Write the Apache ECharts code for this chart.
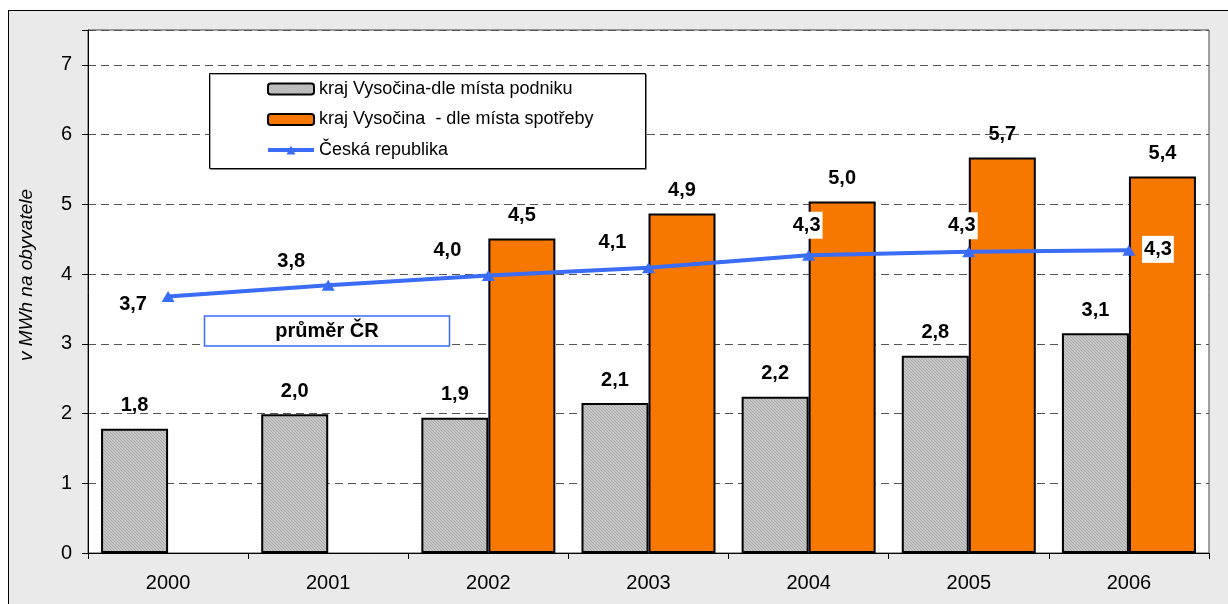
<!DOCTYPE html>
<html>
<head>
    <meta charset="utf-8" />
    <title>Spotřeba elektřiny na obyvatele</title>
    <script src="https://cdn.jsdelivr.net/npm/echarts@6.0.0/dist/echarts.min.js"></script>
    <style>
        body { margin: 0; background: #fff; }
        #frame { position: absolute; left: 8px; top: 10px; width: 1240px; height: 620px; border: 1px solid #000; background: #eaeaea; }
        #chart { position: absolute; left: 0; top: 0; width: 1228px; height: 604px; }
    </style>
</head>
<body>
    <div id="frame"></div>
    <div id="chart"></div>
    <script type="text/javascript">
        // data
        var years = ['2000', '2001', '2002', '2003', '2004', '2005', '2006'];
        var podnik = [1.78, 1.99, 1.94, 2.15, 2.24, 2.83, 3.15];
        var podnikLabels = ['1,8', '2,0', '1,9', '2,1', '2,2', '2,8', '3,1'];
        var spotreba = [null, null, 4.51, 4.87, 5.04, 5.67, 5.40];
        var spotrebaLabels = ['', '', '4,5', '4,9', '5,0', '5,7', '5,4'];
        var republika = [3.68, 3.84, 3.98, 4.09, 4.27, 4.32, 4.34];
        var republikaLabels = ['3,7', '3,8', '4,0', '4,1', '4,3', '4,3', '4,3'];

        // where the line labels sit relative to their point (style only)
        var lineLabelOffset = [[-35, 8], [-37, -24], [-41, -25], [-36, -25], [-2, -30], [-7, -26], [29, -1]];

        var fontName = '"Liberation Sans", Arial, sans-serif';
        var blue = '#3a6cf5';

        // fine grey hatch like the excel fill
        var pat = document.createElement('canvas');
        pat.width = 3;
        pat.height = 3;
        var pctx = pat.getContext('2d');
        pctx.fillStyle = '#c6c6c6';
        pctx.fillRect(0, 0, 3, 3);
        pctx.fillStyle = '#aaaaaa';
        for (var i = 0; i < 3; i++) {
            pctx.fillRect(i, (i + 1) % 3, 1, 1);
        }

        var lineData = republika.map(function (v, i) {
            var bg = i >= 4;
            return {
                value: v,
                label: {
                    offset: lineLabelOffset[i],
                    backgroundColor: bg ? '#fff' : 'transparent',
                    padding: bg ? [4, 2, 3, 2] : 0
                }
            };
        });

        var chart = echarts.init(document.getElementById('chart'));
        chart.setOption({
            backgroundColor: 'transparent',
            animation: false,
            textStyle: { fontFamily: fontName },
            grid: {
                left: 88,
                right: 19,
                top: 30,
                bottom: 51,
                show: true,
                backgroundColor: '#fff',
                borderColor: '#444',
                borderWidth: 1
            },
            legend: {
                orient: 'vertical',
                left: 266,
                top: 79,
                padding: 0,
                itemGap: 10.5,
                itemWidth: 46,
                itemHeight: 11,
                z: 20,
                textStyle: { fontSize: 18, lineHeight: 20, color: '#000', fontFamily: fontName },
                data: [
                    'kraj Vysočina-dle místa podniku',
                    'kraj Vysočina  - dle místa spotřeby',
                    { name: 'Česká republika', lineStyle: { width: 4, color: blue } }
                ]
            },
            xAxis: {
                type: 'category',
                data: years,
                boundaryGap: true,
                axisLine: { lineStyle: { color: '#000', width: 1 } },
                axisTick: { show: true, length: 6, inside: false, lineStyle: { color: '#000' } },
                axisLabel: { fontSize: 20, color: '#000', margin: 20 }
            },
            yAxis: {
                type: 'value',
                min: 0,
                max: 7.5,
                interval: 1,
                axisLine: { show: true, lineStyle: { color: '#000', width: 1 } },
                axisTick: { show: true, length: 6, lineStyle: { color: '#000' } },
                axisLabel: {
                    fontSize: 20,
                    color: '#000',
                    margin: 16,
                    formatter: function (v) { return v % 1 === 0 ? String(v) : ''; }
                },
                splitLine: { show: true, lineStyle: { color: '#555', type: [8, 5], width: 1 } }
            },
            graphic: [
                {
                    type: 'text',
                    x: 27,
                    y: 275,
                    rotation: Math.PI / 2,
                    style: {
                        text: 'v MWh na obyvatele',
                        font: 'italic 19px ' + fontName,
                        fill: '#000',
                        align: 'center',
                        verticalAlign: 'middle'
                    }
                },
                {
                    type: 'rect',
                    z: 10,
                    shape: { x: 209.5, y: 73.5, width: 436, height: 95 },
                    style: { fill: '#fff', stroke: '#000', lineWidth: 1, shadowColor: 'rgba(0,0,0,0.35)', shadowOffsetX: 1, shadowOffsetY: 1 }
                },
                {
                    type: 'rect',
                    z: 10,
                    shape: { x: 204.5, y: 316, width: 245, height: 30 },
                    style: { fill: '#fff', stroke: blue, lineWidth: 1.5 }
                },
                {
                    type: 'text',
                    z: 11,
                    x: 327,
                    y: 331,
                    style: {
                        text: 'průměr ČR',
                        font: 'bold 20px ' + fontName,
                        fill: '#000',
                        align: 'center',
                        verticalAlign: 'middle'
                    }
                }
            ],
            series: [
                {
                    name: 'kraj Vysočina-dle místa podniku',
                    type: 'bar',
                    data: podnik,
                    barWidth: 67,
                    barGap: '0%',
                    itemStyle: { color: { image: pat, repeat: 'repeat' }, borderColor: '#000', borderWidth: 2 },
                    label: {
                        show: true,
                        position: 'top',
                        distance: 13,
                        fontSize: 20,
                        fontWeight: 'bold',
                        color: '#000',
                        formatter: function (p) { return podnikLabels[p.dataIndex]; }
                    }
                },
                {
                    name: 'kraj Vysočina  - dle místa spotřeby',
                    type: 'bar',
                    data: spotreba,
                    barWidth: 67,
                    barGap: '0%',
                    itemStyle: { color: '#f67800', borderColor: '#000', borderWidth: 2 },
                    label: {
                        show: true,
                        position: 'top',
                        distance: 13,
                        fontSize: 20,
                        fontWeight: 'bold',
                        color: '#000',
                        formatter: function (p) { return spotrebaLabels[p.dataIndex]; }
                    }
                },
                {
                    name: 'Česká republika',
                    type: 'line',
                    data: lineData,
                    z: 5,
                    symbol: 'triangle',
                    symbolSize: [13, 11],
                    lineStyle: { color: blue, width: 4 },
                    itemStyle: { color: blue },
                    label: {
                        show: true,
                        position: 'inside',
                        fontSize: 20,
                        fontWeight: 'bold',
                        color: '#000',
                        formatter: function (p) { return republikaLabels[p.dataIndex]; }
                    }
                }
            ]
        });
    </script>
</body>
</html>
